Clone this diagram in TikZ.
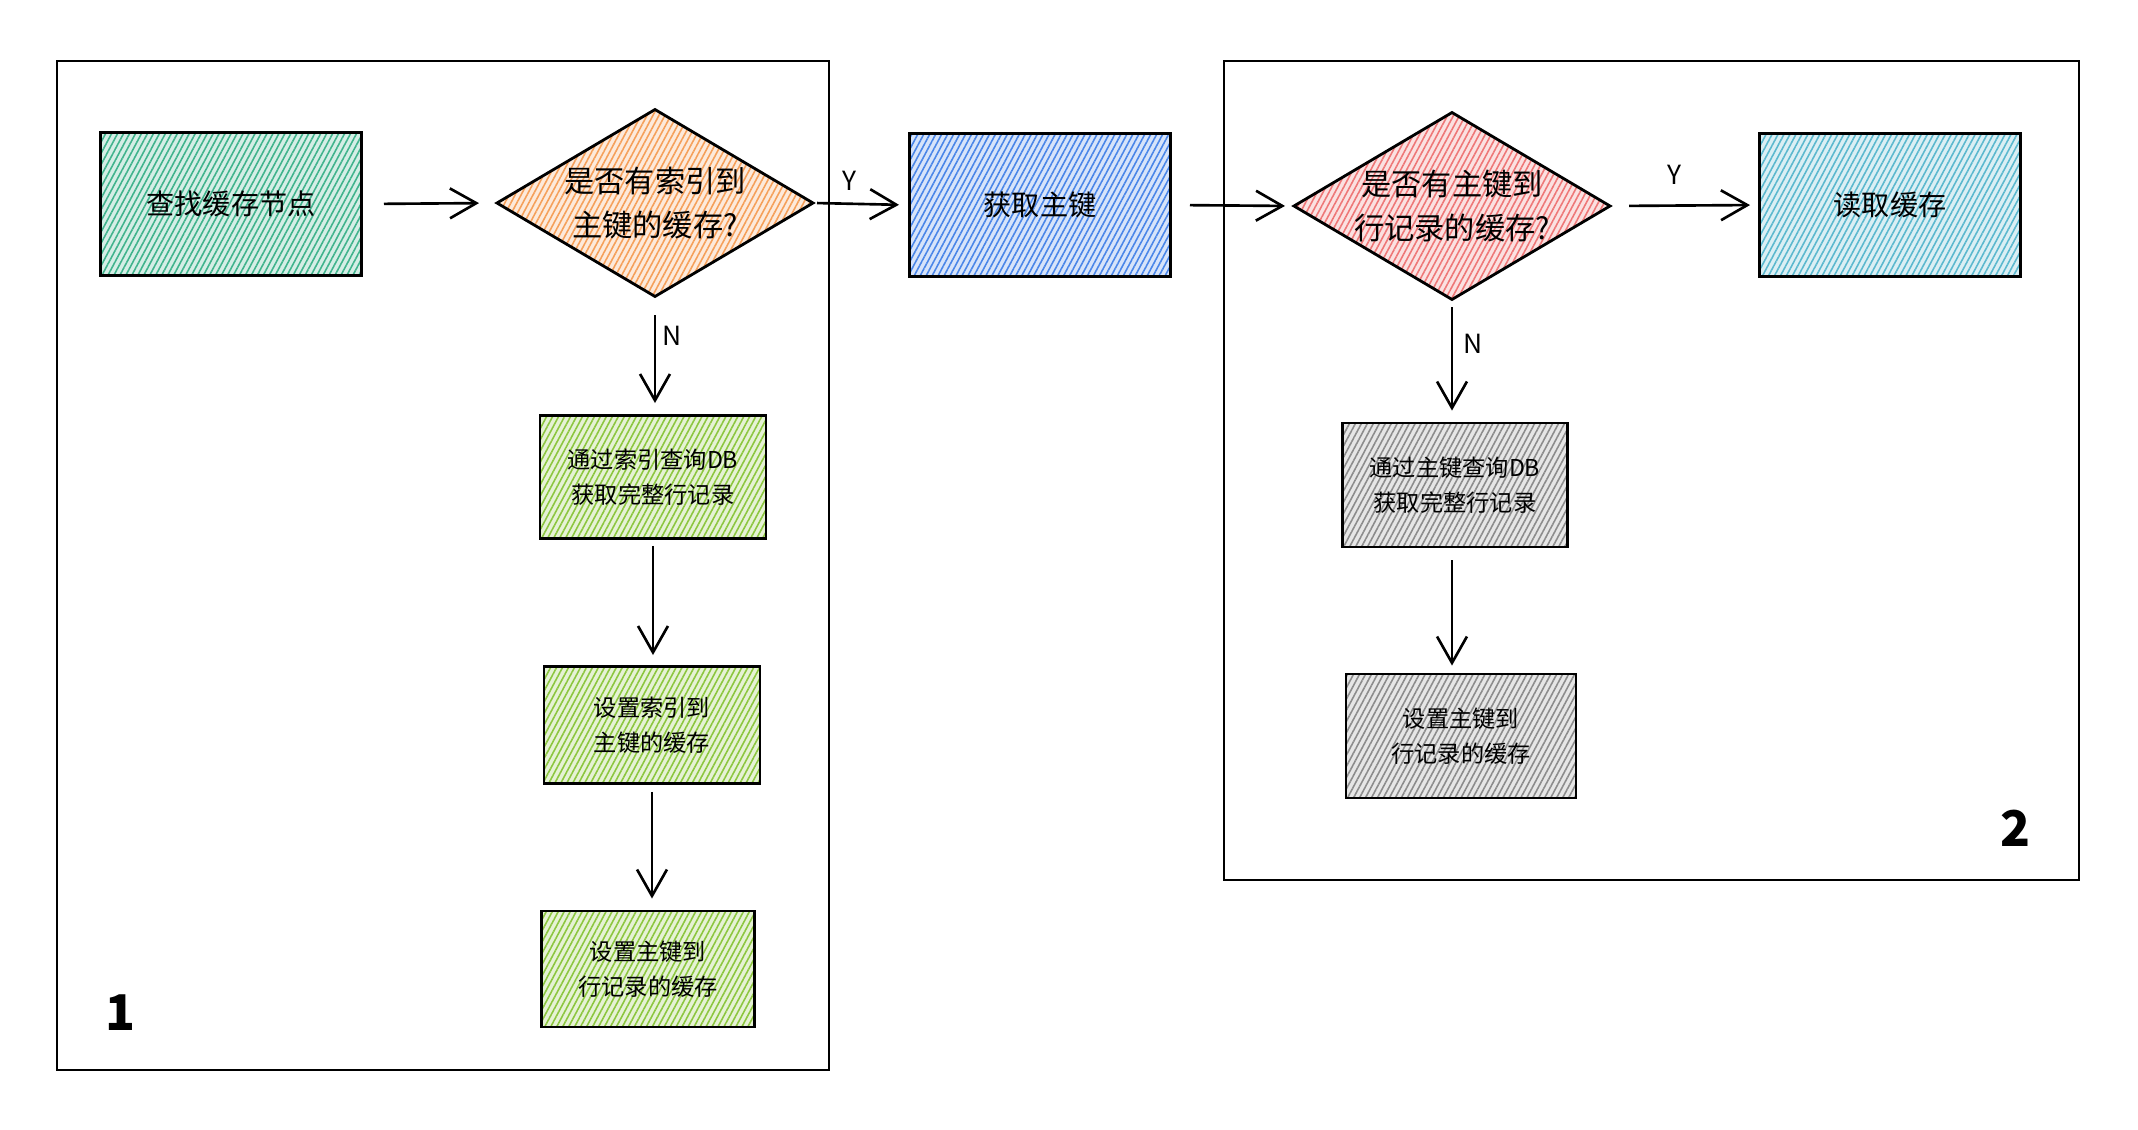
\documentclass[tikz,border=0pt]{standalone}
\usepackage{fontspec}
\newfontfamily\cjk{Noto Sans CJK SC}
\usetikzlibrary{shapes.geometric,arrows.meta,patterns.meta}
\definecolor{cteal}{HTML}{40B38C}
\definecolor{corange}{HTML}{F5A05A}
\definecolor{cblue}{HTML}{4A86E8}
\definecolor{cred}{HTML}{EE7777}
\definecolor{ccyan}{HTML}{5BB8CE}
\definecolor{clime}{HTML}{8CC63F}
\definecolor{cgray}{HTML}{8C8C8C}
\tikzset{
  hatch/.style={preaction={fill=#1!22}, pattern={Lines[angle=62,distance=1.5pt,line width=0.45pt]}, pattern color=#1, draw=black, line width=0.8pt},
  bigbox/.style={rectangle, inner sep=0pt, minimum width=2.61cm, minimum height=1.43cm, font=\cjk\fontsize{8}{11}\selectfont, align=center},
  smallbox/.style={rectangle, inner sep=0pt, font=\cjk\fontsize{6.6}{10.1}\selectfont, align=center},
  decision/.style={diamond, aspect=1.69, inner sep=0pt, minimum width=3.17cm, minimum height=1.88cm, font=\cjk\fontsize{8.6}{12.4}\selectfont, align=center},
  arr/.style={draw=black, line width=0.75pt, -{Straight Barb[length=7.5pt,width=8.5pt,line width=0.75pt]}},
  yn/.style={font=\cjk\fontsize{7.5}{9}\selectfont, inner sep=0pt},
  frame/.style={draw=black, line width=0.6pt},
  num/.style={font=\cjk\fontsize{14}{16}\selectfont\bfseries, inner sep=0pt}
}
\begin{document}
\begin{tikzpicture}[x=0.01cm,y=-0.01cm]
\useasboundingbox (0,0) rectangle (2138,1130);
% frames
\draw[frame] (57,61) rectangle (829,1070);
\draw[frame] (1224,61) rectangle (2079,880);
\node[num] (n1) at (120,1013) {1};
\node[num] (n2) at (2015,828) {2};
% top row
\node[bigbox, hatch=cteal] (b1) at (231,204) {查找缓存节点};
\node[decision, hatch=corange] (d1) at (655,203) {是否有索引到\\主键的缓存?};
\node[bigbox, hatch=cblue] (k) at (1040,205) {获取主键};
\node[decision, hatch=cred] (d2) at (1452,206) {是否有主键到\\行记录的缓存?};
\node[bigbox, hatch=ccyan] (r) at (1890,205) {读取缓存};
% left column
\node[smallbox, hatch=clime, minimum width=2.26cm, minimum height=1.23cm] (t1) at (653,477) {通过索引查询DB\\获取完整行记录};
\node[smallbox, hatch=clime, minimum width=2.16cm, minimum height=1.17cm] (s1) at (652,725) {设置索引到\\主键的缓存};
\node[smallbox, hatch=clime, minimum width=2.13cm, minimum height=1.16cm] (s2) at (648,969) {设置主键到\\行记录的缓存};
% right column
\node[smallbox, hatch=cgray, minimum width=2.25cm, minimum height=1.24cm] (t2) at (1455,485) {通过主键查询DB\\获取完整行记录};
\node[smallbox, hatch=cgray, minimum width=2.30cm, minimum height=1.24cm] (s3) at (1461,736) {设置主键到\\行记录的缓存};
% arrows
\draw[arr, shorten <=0.21cm, shorten >=0.16cm] (b1.east) -- (d1.west);
\draw[arr, shorten <=0.02cm, shorten >=0.09cm] (d1.east) -- (k.west);
\draw[arr, shorten <=0.18cm, shorten >=0.07cm] (k.east) -- (d2.west);
\draw[arr, shorten <=0.17cm, shorten >=0.08cm] (d2.east) -- (r.west);
\draw[arr, shorten <=0.17cm, shorten >=0.11cm] (d1.south) -- (d1.south |- t1.north);
\draw[arr, shorten <=0.06cm, shorten >=0.10cm] (t1.south) -- (t1.south |- s1.north);
\draw[arr, shorten <=0.07cm, shorten >=0.11cm] (s1.south) -- (s1.south |- s2.north);
\draw[arr, shorten <=0.06cm, shorten >=0.11cm] (d2.south) -- (d2.south |- t2.north);
\draw[arr, shorten <=0.12cm, shorten >=0.07cm] (d2.south |- t2.south) -- (d2.south |- s3.north);
% labels
\node[yn] (y1) at (849,181) {Y};
\node[yn] (no1) at (672,336) {N};
\node[yn] (y2) at (1674,175) {Y};
\node[yn] (no2) at (1473,344) {N};
\end{tikzpicture}
\end{document}
